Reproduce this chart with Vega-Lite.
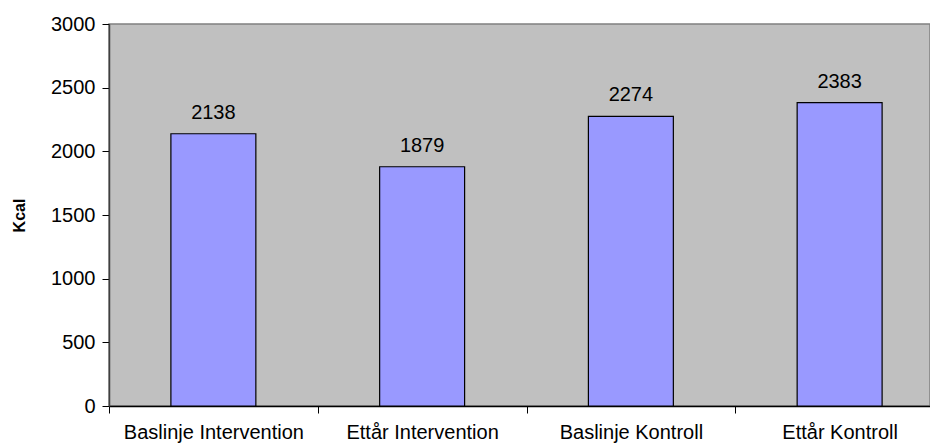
{
  "$schema": "https://vega.github.io/schema/vega-lite/v6.json",
  "autosize": {"type": "none"},
  "padding": {"left": 109, "top": 24, "right": 0, "bottom": 39},
  "width": 821,
  "height": 382,
  "background": "white",
  "config": {
    "font": "Liberation Sans",
    "view": {"fill": "#c0c0c0", "stroke": "#808080", "strokeWidth": 1.5},
    "axis": {"grid": false, "labelFont": "Liberation Sans", "titleFont": "Liberation Sans"}
  },
  "data": {
    "values": [
      {"gruppe": "Baslinje Intervention", "kcal": 2138},
      {"gruppe": "Ettår Intervention", "kcal": 1879},
      {"gruppe": "Baslinje Kontroll", "kcal": 2274},
      {"gruppe": "Ettår Kontroll", "kcal": 2383}
    ]
  },
  "encoding": {
    "x": {
      "field": "gruppe",
      "type": "nominal",
      "sort": null,
      "scale": {"paddingInner": 0, "paddingOuter": 0, "range": [0, 835]},
      "axis": {
        "title": null,
        "labelAngle": 0,
        "labelFontSize": 20,
        "labelLimit": 0,
        "labelColor": "#000000",
        "labelPadding": 9,
        "tickBand": "extent",
        "tickSize": 7,
        "tickColor": "#000000",
        "domainColor": "#000000",
        "domainWidth": 1.5
      }
    },
    "y": {
      "field": "kcal",
      "type": "quantitative",
      "scale": {"domain": [0, 3000], "nice": false},
      "axis": {
        "title": "Kcal",
        "titleFontSize": 16,
        "titleFontWeight": "bold",
        "titleColor": "#000000",
        "titlePadding": 23,
        "values": [0, 500, 1000, 1500, 2000, 2500, 3000],
        "format": "d",
        "labelFontSize": 20,
        "labelColor": "#000000",
        "labelPadding": 7,
        "tickSize": 7,
        "tickColor": "#000000",
        "domainColor": "#404040",
        "domainWidth": 1.5
      }
    }
  },
  "layer": [
    {
      "mark": {"type": "bar", "width": {"band": 0.407}, "fill": "#9999ff", "stroke": "#000000", "strokeWidth": 1.2}
    },
    {
      "mark": {"type": "text", "dy": -15, "baseline": "alphabetic", "fontSize": 20, "color": "#000000"},
      "encoding": {"text": {"field": "kcal", "type": "quantitative", "format": "d"}}
    }
  ]
}
